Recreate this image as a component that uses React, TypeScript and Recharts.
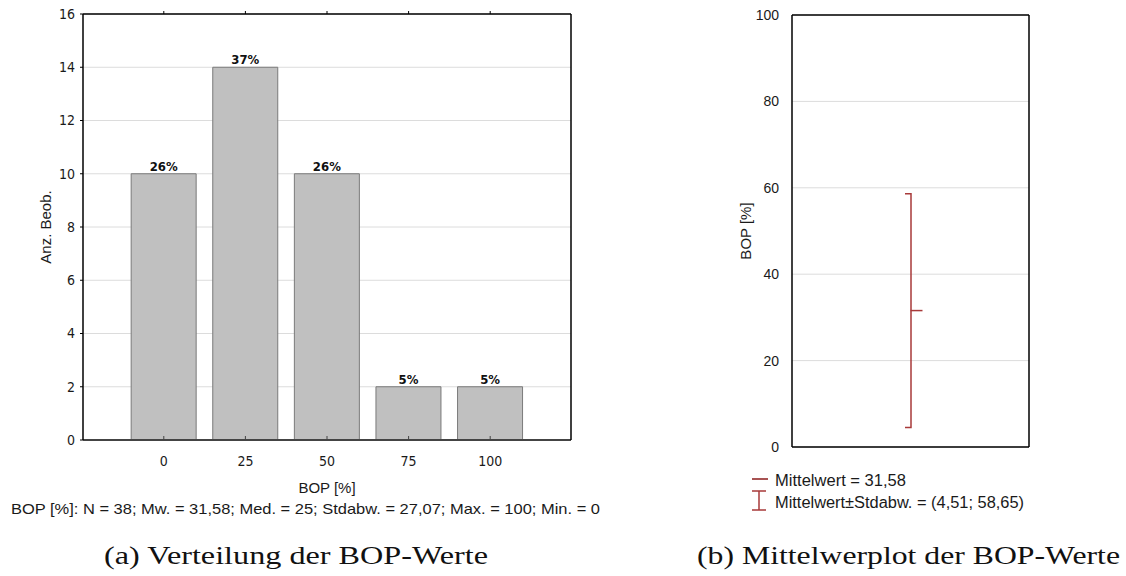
import React from 'react';
import {
  Bar,
  BarChart,
  CartesianGrid,
  ComposedChart,
  LabelList,
  Scatter,
  XAxis,
  YAxis,
} from 'recharts';

// histogram (a)
const bins = ['0', '25', '50', '75', '100'];
const counts = [10, 14, 10, 2, 2];
const countTicks = [0, 2, 4, 6, 8, 10, 12, 14, 16];

// mean plot (b)
const meanNames = ['BOP'];
const meanValues = [31.58];
const sdLow = [4.51];
const sdHigh = [58.65];
const bopTicks = [0, 20, 40, 60, 80, 100];

const total = counts.reduce((a, b) => a + b, 0);
const histData = bins.map((bin, i) => ({
  bin,
  count: counts[i],
  pct: `${Math.round((counts[i] / total) * 100)}%`,
}));
const meanData = meanNames.map((name, i) => ({
  name,
  mean: meanValues[i],
  sd: [sdLow[i], sdHigh[i]],
}));

const NARROW = '"Liberation Sans Narrow", "DejaVu Sans Condensed", Arial, sans-serif';
const SANS = '"Liberation Sans", Arial, sans-serif';
const SERIF = '"Liberation Serif", "DejaVu Serif", serif';
const TEXT = '#1a1a1a';
const RED = '#a83a3a';

const noLabel = () => '';

function ErrorShape(props: any) {
  const { x, y, width, height } = props;
  const top = Math.min(y, y + height);
  const bottom = Math.max(y, y + height);
  const cx = x + width / 2;
  return (
    <path
      d={`M${cx - 6},${top} H${cx} V${bottom} H${cx - 6}`}
      stroke={RED}
      strokeWidth={1.5}
      fill="none"
    />
  );
}

function MeanShape(props: any) {
  const { cx, cy } = props;
  return <line x1={cx} x2={cx + 12} y1={cy} y2={cy} stroke={RED} strokeWidth={1.5} />;
}

function Histogram() {
  return (
    <BarChart
      width={600}
      height={480}
      data={histData}
      margin={{ top: 13, right: 28, left: 0, bottom: 0 }}
      barCategoryGap="10%"
    >
      <CartesianGrid vertical={false} stroke="#dcdcdc" />
      <XAxis
        dataKey="bin"
        height={40}
        padding={{ left: 40, right: 40 }}
        axisLine={{ stroke: '#444', strokeWidth: 2 }}
        tickLine={{ stroke: '#444' }}
        tickSize={-4}
        tickMargin={20}
        tick={{ fill: TEXT, fontSize: 14, fontFamily: NARROW }}
      />
      <XAxis
        xAxisId="top"
        dataKey="bin"
        orientation="top"
        height={1}
        padding={{ left: 40, right: 40 }}
        axisLine={{ stroke: '#000', strokeWidth: 1.5 }}
        tickLine={{ stroke: '#000' }}
        tickSize={3}
        tickFormatter={noLabel}
      />
      <YAxis
        width={83}
        domain={[0, 16]}
        ticks={countTicks}
        interval={0}
        axisLine={{ stroke: '#000', strokeWidth: 1.5 }}
        tickLine={{ stroke: '#000' }}
        tickSize={3}
        tickMargin={5}
        tick={{ fill: TEXT, fontSize: 14, fontFamily: NARROW }}
      />
      <YAxis
        yAxisId="right"
        orientation="right"
        width={1}
        domain={[0, 16]}
        ticks={countTicks}
        interval={0}
        axisLine={{ stroke: '#000', strokeWidth: 1.5 }}
        tickLine={{ stroke: '#000' }}
        tickSize={-5}
        tickFormatter={noLabel}
      />
      <Bar dataKey="count" fill="#c0c0c0" stroke="#7a7a7a" isAnimationActive={false}>
        <LabelList
          dataKey="pct"
          position="top"
          offset={3}
          fill="#111"
          fontSize={13}
          fontWeight="bold"
          fontFamily={NARROW}
        />
      </Bar>
    </BarChart>
  );
}

function MeanPlot() {
  return (
    <ComposedChart
      width={340}
      height={470}
      data={meanData}
      margin={{ top: 14, right: 10, left: 0, bottom: 22 }}
    >
      <CartesianGrid vertical={false} stroke="#dcdcdc" />
      <XAxis
        dataKey="name"
        height={1}
        tickFormatter={noLabel}
        tickLine={false}
        axisLine={{ stroke: '#000', strokeWidth: 1.5 }}
      />
      <XAxis
        xAxisId="top"
        dataKey="name"
        orientation="top"
        height={1}
        tickFormatter={noLabel}
        tickLine={false}
        axisLine={{ stroke: '#000', strokeWidth: 1.5 }}
      />
      <YAxis
        width={92}
        domain={[0, 100]}
        ticks={bopTicks}
        interval={0}
        axisLine={{ stroke: '#000', strokeWidth: 1.5 }}
        tickLine={false}
        tickMargin={7}
        tick={{ fill: TEXT, fontSize: 14, fontFamily: SANS }}
      />
      <YAxis
        yAxisId="right"
        orientation="right"
        width={1}
        domain={[0, 100]}
        ticks={bopTicks}
        interval={0}
        axisLine={{ stroke: '#000', strokeWidth: 1.5 }}
        tickLine={{ stroke: '#333' }}
        tickSize={-3}
        tickFormatter={noLabel}
      />
      <Bar dataKey="sd" barSize={12} shape={ErrorShape} isAnimationActive={false} />
      <Scatter dataKey="mean" shape={MeanShape} isAnimationActive={false} />
    </ComposedChart>
  );
}

export default function App() {
  return (
    <div style={{ position: 'absolute', left: 0, top: 0, width: 1126, height: 576, background: '#fff' }}>
      <div style={{ position: 'absolute', left: 0, top: 0 }}>
        <Histogram />
      </div>
      <div style={{ position: 'absolute', left: 700, top: 0 }}>
        <MeanPlot />
      </div>
      <svg
        width={1126}
        height={576}
        style={{ position: 'absolute', left: 0, top: 0, pointerEvents: 'none' }}
      >
        <g fontFamily={SANS} fill={TEXT} fontSize={15}>
          <text x={45.5} y={227} transform="rotate(-90 45.5 227)" textAnchor="middle" dominantBaseline="central">
            Anz. Beob.
          </text>
          <text x={327} y={487} textAnchor="middle" dominantBaseline="central">
            BOP [%]
          </text>
          <text x={11} y={508} dominantBaseline="central" textLength={589} lengthAdjust="spacingAndGlyphs">
            BOP [%]: N = 38; Mw. = 31,58; Med. = 25; Stdabw. = 27,07; Max. = 100; Min. = 0
          </text>
          <text x={745} y={231} transform="rotate(-90 745 231)" textAnchor="middle" dominantBaseline="central">
            BOP [%]
          </text>
        </g>
        <g>
          <line x1={752} x2={768} y1={479} y2={479} stroke="#8b1a1a" strokeWidth={1.5} />
          <path d="M752,491 H766 M759,491 V510 M752,510 H766" stroke={RED} strokeWidth={1.5} fill="none" />
          <g fontFamily={SANS} fill={TEXT} fontSize={16}>
            <text x={775} y={480} dominantBaseline="central" textLength={131} lengthAdjust="spacingAndGlyphs">
              Mittelwert = 31,58
            </text>
            <text x={775} y={502} dominantBaseline="central" textLength={249} lengthAdjust="spacingAndGlyphs">
              Mittelwert±Stdabw. = (4,51; 58,65)
            </text>
          </g>
        </g>
        <g fontFamily={SERIF} fill="#111" fontSize={25}>
          <text x={104} y={555} dominantBaseline="central" textLength={384} lengthAdjust="spacingAndGlyphs">
            (a) Verteilung der BOP-Werte
          </text>
          <text x={697} y={555} dominantBaseline="central" textLength={423} lengthAdjust="spacingAndGlyphs">
            (b) Mittelwerplot der BOP-Werte
          </text>
        </g>
      </svg>
    </div>
  );
}
